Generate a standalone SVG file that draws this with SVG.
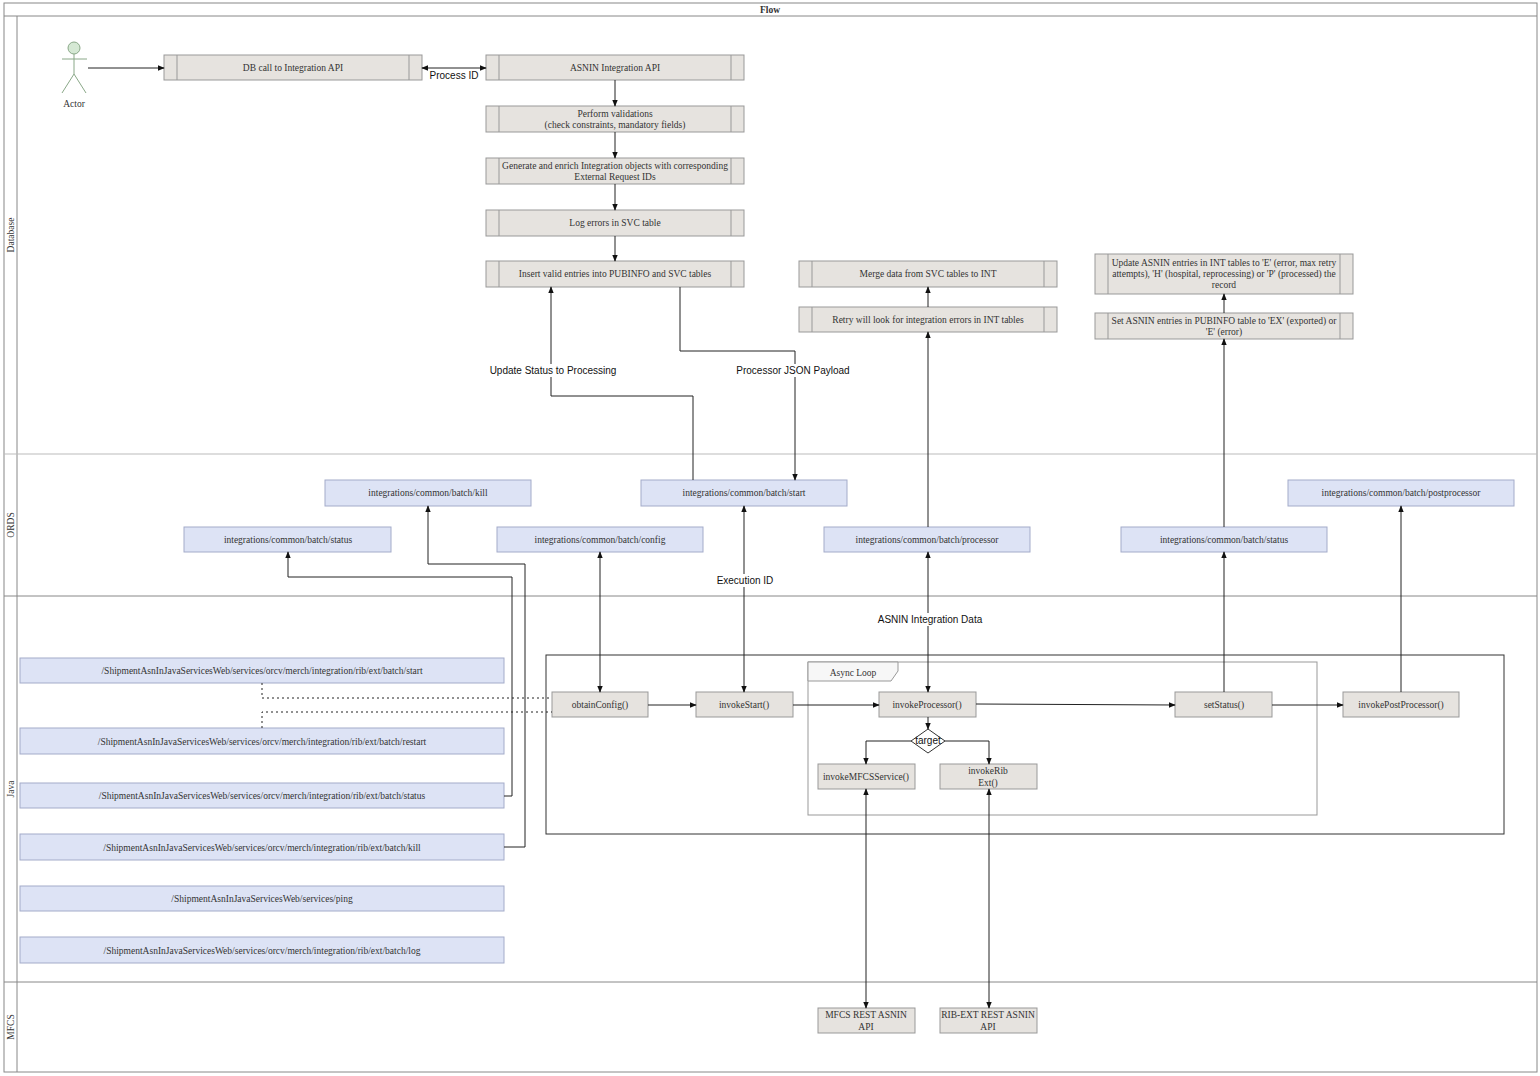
<svg xmlns="http://www.w3.org/2000/svg" width="1540" height="1076" viewBox="0 0 1540 1076">
<style>
.g{fill:#e6e3df;stroke:#999;stroke-width:1}
.b{fill:#dde3f5;stroke:#a3abc9;stroke-width:1}
.il{stroke:#999;stroke-width:1}
.t{font-family:"Liberation Serif",serif;font-size:9.5px;fill:#333;text-anchor:middle}
.s{font-family:"Liberation Sans",sans-serif;font-size:10px;fill:#111;text-anchor:middle}
.c{fill:none;stroke:#222;stroke-width:1}
.lane{fill:none;stroke:#888;stroke-width:1}
.lb{fill:#fff}
</style>
<defs>
<marker id="a" viewBox="0 0 10 10" refX="9" refY="5" markerWidth="7" markerHeight="7" orient="auto-start-reverse"><path d="M0,1 L10,5 L0,9 z" fill="#111"/></marker>
</defs>
<rect width="1540" height="1076" fill="#fff"/>
<g id="pool">
<rect x="4" y="3" width="1533" height="1069" class="lane"/>
<line x1="4" y1="16" x2="1537" y2="16" class="lane"/>
<line x1="17" y1="16" x2="17" y2="1072" class="lane"/>
<line x1="4" y1="454" x2="1537" y2="454" stroke="#bbb"/>
<line x1="4" y1="596" x2="1537" y2="596" class="lane"/>
<line x1="4" y1="982" x2="1537" y2="982" class="lane"/>
<text x="770" y="13" class="t" font-weight="bold" fill="#222">Flow</text>
<text class="t" transform="translate(14,235) rotate(-90)">Database</text>
<text class="t" transform="translate(14,525) rotate(-90)" fill="#888">ORDS</text>
<text class="t" transform="translate(14,789) rotate(-90)">Java</text>
<text class="t" transform="translate(14,1027) rotate(-90)">MFCS</text>
</g>
<g id="actor" fill="none" stroke="#8aa888">
<circle cx="74" cy="48" r="6" fill="#d5e8d4"/>
<line x1="74" y1="54" x2="74" y2="74"/><line x1="62" y1="59" x2="87" y2="59"/>
<line x1="74" y1="74" x2="62" y2="93"/><line x1="74" y1="74" x2="86" y2="93"/>
<text x="74" y="107" class="t" stroke="none" fill="#111">Actor</text>
</g>
<g id="dbcall"><rect x="164" y="55" width="258" height="25" class="g"/><line x1="177" y1="55" x2="177" y2="80" class="il"/><line x1="409" y1="55" x2="409" y2="80" class="il"/><text x="293" y="71" class="t">DB call to Integration API</text></g>
<g id="asnin"><rect x="486" y="55" width="258" height="25" class="g"/><line x1="499" y1="55" x2="499" y2="80" class="il"/><line x1="731" y1="55" x2="731" y2="80" class="il"/><text x="615" y="71" class="t">ASNIN Integration API</text></g>
<g id="valid"><rect x="486" y="106" width="258" height="26" class="g"/><line x1="499" y1="106" x2="499" y2="132" class="il"/><line x1="731" y1="106" x2="731" y2="132" class="il"/><text x="615" y="117" class="t">Perform validations</text><text x="615" y="128" class="t">(check constraints, mandatory fields)</text></g>
<g id="gen"><rect x="486" y="158" width="258" height="26" class="g"/><line x1="499" y1="158" x2="499" y2="184" class="il"/><line x1="731" y1="158" x2="731" y2="184" class="il"/><text x="615" y="169" class="t">Generate and enrich Integration objects with corresponding</text><text x="615" y="180" class="t">External Request IDs</text></g>
<g id="log"><rect x="486" y="210" width="258" height="26" class="g"/><line x1="499" y1="210" x2="499" y2="236" class="il"/><line x1="731" y1="210" x2="731" y2="236" class="il"/><text x="615" y="226" class="t">Log errors in SVC table</text></g>
<g id="insert"><rect x="486" y="261" width="258" height="26" class="g"/><line x1="499" y1="261" x2="499" y2="287" class="il"/><line x1="731" y1="261" x2="731" y2="287" class="il"/><text x="615" y="277" class="t">Insert valid entries into PUBINFO and SVC tables</text></g>
<g id="merge"><rect x="799" y="261" width="258" height="26" class="g"/><line x1="812" y1="261" x2="812" y2="287" class="il"/><line x1="1044" y1="261" x2="1044" y2="287" class="il"/><text x="928" y="277" class="t">Merge data from SVC tables to INT</text></g>
<g id="retry"><rect x="799" y="307" width="258" height="25" class="g"/><line x1="812" y1="307" x2="812" y2="332" class="il"/><line x1="1044" y1="307" x2="1044" y2="332" class="il"/><text x="928" y="323" class="t">Retry will look for integration errors in INT tables</text></g>
<g id="update"><rect x="1095" y="254" width="258" height="40" class="g"/><line x1="1108" y1="254" x2="1108" y2="294" class="il"/><line x1="1340" y1="254" x2="1340" y2="294" class="il"/><text x="1224" y="266" class="t">Update ASNIN entries in INT tables to 'E' (error, max retry</text><text x="1224" y="277" class="t">attempts), 'H' (hospital, reprocessing) or 'P' (processed) the</text><text x="1224" y="288" class="t">record</text></g>
<g id="setpub"><rect x="1095" y="313" width="258" height="26" class="g"/><line x1="1108" y1="313" x2="1108" y2="339" class="il"/><line x1="1340" y1="313" x2="1340" y2="339" class="il"/><text x="1224" y="324" class="t">Set ASNIN entries in PUBINFO table to 'EX' (exported) or</text><text x="1224" y="335" class="t">'E' (error)</text></g>
<g id="ords-kill"><rect x="325" y="480" width="206" height="26" class="b"/><text x="428" y="496" class="t">integrations/common/batch/kill</text></g>
<g id="ords-start"><rect x="641" y="480" width="206" height="26" class="b"/><text x="744" y="496" class="t">integrations/common/batch/start</text></g>
<g id="ords-post"><rect x="1288" y="480" width="226" height="26" class="b"/><text x="1401" y="496" class="t">integrations/common/batch/postprocessor</text></g>
<g id="ords-status"><rect x="184" y="527" width="207" height="25" class="b"/><text x="288" y="543" class="t">integrations/common/batch/status</text></g>
<g id="ords-config"><rect x="497" y="527" width="206" height="25" class="b"/><text x="600" y="543" class="t">integrations/common/batch/config</text></g>
<g id="ords-proc"><rect x="824" y="527" width="206" height="25" class="b"/><text x="927" y="543" class="t">integrations/common/batch/processor</text></g>
<g id="ords-status2"><rect x="1121" y="527" width="206" height="25" class="b"/><text x="1224" y="543" class="t">integrations/common/batch/status</text></g>
<g id="j-start"><rect x="20" y="658" width="484" height="25" class="b"/><text x="262" y="674" class="t">/ShipmentAsnInJavaServicesWeb/services/orcv/merch/integration/rib/ext/batch/start</text></g>
<g id="j-restart"><rect x="20" y="728" width="484" height="26" class="b"/><text x="262" y="745" class="t">/ShipmentAsnInJavaServicesWeb/services/orcv/merch/integration/rib/ext/batch/restart</text></g>
<g id="j-status"><rect x="20" y="783" width="484" height="25" class="b"/><text x="262" y="799" class="t">/ShipmentAsnInJavaServicesWeb/services/orcv/merch/integration/rib/ext/batch/status</text></g>
<g id="j-kill"><rect x="20" y="834" width="484" height="26" class="b"/><text x="262" y="851" class="t">/ShipmentAsnInJavaServicesWeb/services/orcv/merch/integration/rib/ext/batch/kill</text></g>
<g id="j-ping"><rect x="20" y="886" width="484" height="25" class="b"/><text x="262" y="902" class="t">/ShipmentAsnInJavaServicesWeb/services/ping</text></g>
<g id="j-log"><rect x="20" y="937" width="484" height="26" class="b"/><text x="262" y="954" class="t">/ShipmentAsnInJavaServicesWeb/services/orcv/merch/integration/rib/ext/batch/log</text></g>
<g id="frame"><rect x="546" y="655" width="958" height="179" fill="none" stroke="#333"/></g>
<g id="asyncloop"><rect x="808" y="662" width="509" height="153" fill="none" stroke="#999"/><path d="M808,662 H898 V671 L891,681 H808 Z" fill="#f7f7f7" stroke="#999"/><text x="853" y="676" class="t">Async Loop</text></g>
<g id="obtain"><rect x="552" y="692" width="96" height="25" class="g"/><text x="600" y="708" class="t">obtainConfig()</text></g>
<g id="invstart"><rect x="696" y="692" width="97" height="25" class="g"/><text x="744" y="708" class="t">invokeStart()</text></g>
<g id="invproc"><rect x="879" y="692" width="97" height="25" class="g"/><text x="927" y="708" class="t">invokeProcessor()</text></g>
<g id="setstatus"><rect x="1175" y="692" width="97" height="25" class="g"/><text x="1224" y="708" class="t">setStatus()</text></g>
<g id="invpost"><rect x="1343" y="692" width="116" height="25" class="g"/><text x="1401" y="708" class="t">invokePostProcessor()</text></g>
<g id="target"><path d="M928,729 L945,741 L928,753 L911,741 Z" fill="#fff" stroke="#333"/><text x="928" y="744" class="s" font-size="8">target</text></g>
<g id="invmfcs"><rect x="818" y="764" width="97" height="25" class="g"/><text x="866" y="780" class="t">invokeMFCSService()</text></g>
<g id="invrib"><rect x="940" y="764" width="97" height="25" class="g"/><text x="988" y="774" class="t">invokeRib</text><text x="988" y="786" class="t">Ext()</text></g>
<g id="mfcsapi"><rect x="818" y="1008" width="97" height="25" class="g"/><text x="866" y="1018" class="t">MFCS REST ASNIN</text><text x="866" y="1030" class="t">API</text></g>
<g id="ribapi"><rect x="940" y="1008" width="97" height="25" class="g"/><text x="988" y="1018" class="t">RIB-EXT REST ASNIN</text><text x="988" y="1030" class="t">API</text></g>
<g id="connectors">
<path d="M88,68 H164" class="c" marker-end="url(#a)"/>
<path d="M422,68 H486" class="c" marker-start="url(#a)" marker-end="url(#a)"/>
<path d="M615,80 V106" class="c" marker-end="url(#a)"/>
<path d="M615,132 V158" class="c" marker-end="url(#a)"/>
<path d="M615,184 V210" class="c" marker-end="url(#a)"/>
<path d="M615,236 V261" class="c" marker-end="url(#a)"/>
<path d="M693,480 V396 H551 V287" class="c" stroke="#555" marker-end="url(#a)"/>
<path d="M680,287 V351 H795 V480" class="c" stroke="#555" marker-end="url(#a)"/>
<path d="M928,552 V692" class="c" marker-start="url(#a)" marker-end="url(#a)"/>
<path d="M928,527 V332" class="c" marker-end="url(#a)"/>
<path d="M928,307 V287" class="c" marker-end="url(#a)"/>
<path d="M1224,692 V552" class="c" marker-end="url(#a)"/>
<path d="M1224,527 V339" class="c" marker-end="url(#a)"/>
<path d="M1224,313 V294" class="c" marker-end="url(#a)"/>
<path d="M1401,692 V506" class="c" marker-end="url(#a)"/>
<path d="M600,552 V692" class="c" marker-start="url(#a)" marker-end="url(#a)"/>
<path d="M744,506 V692" class="c" marker-start="url(#a)" marker-end="url(#a)"/>
<path d="M648,705 H696" class="c" marker-end="url(#a)"/>
<path d="M793,705 H879" class="c" marker-end="url(#a)"/>
<path d="M976,704 L1175,705" class="c" marker-end="url(#a)"/>
<path d="M1272,705 H1343" class="c" marker-end="url(#a)"/>
<path d="M928,717 V729" class="c" marker-end="url(#a)"/>
<path d="M911,741 H866 V764" class="c" marker-end="url(#a)"/>
<path d="M945,741 H989 V764" class="c" marker-end="url(#a)"/>
<path d="M866,789 V1008" class="c" marker-start="url(#a)" marker-end="url(#a)"/>
<path d="M989,789 V1008" class="c" marker-start="url(#a)" marker-end="url(#a)"/>
<path d="M504,796 H512 V577 H288 V552" class="c" stroke="#555" marker-end="url(#a)"/>
<path d="M504,847 H525 V564 H428 V506" class="c" stroke="#555" marker-end="url(#a)"/>
<path d="M262,683 V698 H552" class="c" stroke="#555" stroke-dasharray="2,3"/>
<path d="M262,728 V712 H552" class="c" stroke="#555" stroke-dasharray="2,3"/>
<rect x="430" y="70" width="48" height="12" class="lb"/>
<rect x="489" y="364" width="128" height="13" class="lb"/>
<rect x="736" y="364" width="114" height="13" class="lb"/>
<rect x="714" y="574" width="62" height="13" class="lb"/>
<rect x="877" y="613" width="106" height="13" class="lb"/>
<text x="454" y="79" class="s">Process ID</text>
<text x="553" y="374" class="s">Update Status to Processing</text>
<text x="793" y="374" class="s">Processor JSON Payload</text>
<text x="745" y="584" class="s">Execution ID</text>
<text x="930" y="623" class="s">ASNIN Integration Data</text>
</g>
</svg>
